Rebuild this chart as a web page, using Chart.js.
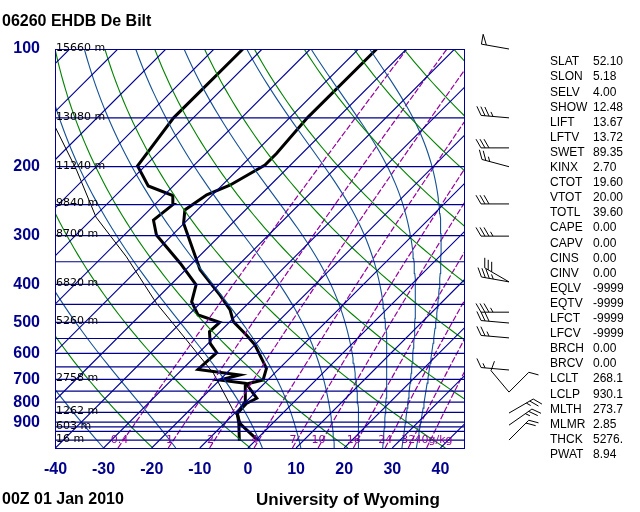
<!DOCTYPE html>
<html>
<head>
<meta charset="utf-8">
<script src="https://cdn.jsdelivr.net/npm/chart.js@4/dist/chart.umd.min.js"></script>
<style>
body { margin: 0; background: #fff; }
#wrap { width: 640px; height: 512px; position: relative; }
</style>
</head>
<body>
<div id="wrap"><canvas id="skewt" width="640" height="512"></canvas></div>
<script>
// sounding data (hPa, degC)
var tempP = [1004, 907, 855, 806, 782, 719, 702, 656, 571, 539, 498, 465, 426, 367, 279, 258, 236, 223, 198, 185, 150, 100];
var tempT = [0.6, -6.8, -9.4, -9.6, -8.5, -13.6, -11.0, -12.7, -20.0, -23.8, -29.3, -32.4, -37.6, -47.0, -60.1, -62.6, -61.2, -58.4, -55.3, -55.3, -56.3, -56.2];
var dwptP = [1004, 907, 855, 798, 716, 702, 682, 660, 598, 566, 528, 500, 479, 443, 401, 353, 299, 274, 250, 237, 224, 199, 150, 100];
var dwptT = [-3.3, -7.0, -9.4, -10.2, -14.0, -20.0, -16.9, -26.7, -26.3, -29.6, -32.2, -32.0, -38.0, -42.1, -44.7, -52.5, -63.3, -67.0, -66.2, -68.1, -75.2, -81.6, -84.1, -84.0];
var parcelP = [1004, 930, 838, 675, 555, 447, 340, 269, 204, 158];
var parcelT = [0.6, -5.0, -11.0, -22.7, -35.2, -49.1, -65.0, -79.6, -93.4, -106.9];

// winds (hPa, deg, knots)
var windP = [100, 150, 179, 200, 249, 301, 394, 394, 471, 502, 548, 662, 754, 754, 853, 916, 1000];
var windDir = [280, 275, 270, 285, 270, 270, 280, 300, 270, 275, 275, 275, 320, 45, 60, 55, 45];
var windSpd = [50, 35, 30, 25, 30, 35, 35, 30, 35, 30, 25, 15, 10, 10, 25, 25, 20];

// labels
var pressureTicks = [100, 200, 300, 400, 500, 600, 700, 800, 900];
var tempTicks = [-40, -30, -20, -10, 0, 10, 20, 30, 40];
var heightP = [100, 150, 200, 250, 300, 400, 500, 700, 850, 925, 1000];
var heightLabels = ['15660 m', '13080 m', '11240 m', '9840 m', '8700 m', '6820 m', '5260 m', '2758 m', '1262 m', '603 m', '16 m'];
var isobars = [100, 150, 200, 250, 300, 350, 400, 450, 500, 550, 600, 650, 700, 750, 800, 850, 900, 925, 950, 1000];
var mixRatios = [0.4, 1, 2, 4, 7, 10, 16, 24, 32, 40];
var mixLabels = ['0.4', '1', '2', '4', '7', '10', '16', '24', '32', '40g/kg'];
var moistStart = [-30, -15, 3, 11, 18, 23, 28, 32, 35];   // degC at bottom edge
var indexNames = ['SLAT', 'SLON', 'SELV', 'SHOW', 'LIFT', 'LFTV', 'SWET', 'KINX', 'CTOT', 'VTOT', 'TOTL', 'CAPE', 'CAPV', 'CINS', 'CINV', 'EQLV', 'EQTV', 'LFCT', 'LFCV', 'BRCH', 'BRCV', 'LCLT', 'LCLP', 'MLTH', 'MLMR', 'THCK', 'PWAT'];
var indexValues = ['52.10', '5.18', '4.00', '12.48', '13.67', '13.72', '89.35', '2.70', '19.60', '20.00', '39.60', '0.00', '0.00', '0.00', '0.00', '-9999', '-9999', '-9999', '-9999', '0.00', '0.00', '268.1', '930.1', '273.7', '2.85', '5276.', '8.94'];

var P0 = 1048, PTOP = 100, SKEW = 81.3;
var XMIN = -40.1, XMAX = 44.9;

function sk(t, p) { return { x: t + SKEW * Math.log10(P0 / p), y: p }; }
function profile(ps, ts) { return ps.map(function(p, i) { return sk(ts[i], p); }); }

function line(data, color, width, dash) {
    return { data: data, borderColor: color, borderWidth: width, borderDash: dash || [],
             showLine: true, pointRadius: 0, fill: false, tension: 0 };
}

var datasets = [];
var levels = [];
for (var lp = Math.log(P0); lp >= Math.log(PTOP) - 1e-9; lp -= (Math.log(P0) - Math.log(PTOP)) / 60) levels.push(Math.exp(lp));

// isobars
isobars.forEach(function(p) {
    datasets.push(line([{ x: XMIN, y: p }, { x: XMAX, y: p }], 'rgb(0,0,140)', 1.2));
});
// isotherms
for (var t = -160; t <= 40; t += 10) {
    datasets.push(line([sk(t, P0), sk(t, PTOP)], 'rgb(0,0,150)', 1.1));
}
// dry adiabats
for (var th = 250; th <= 510; th += 20) {
    datasets.push(line(levels.map(function(p) { return sk(th * Math.pow(p / 1000, 0.286) - 273.15, p); }), 'rgb(0,130,0)', 1.1));
}
// moist adiabats
function rs(T, p) { var e = 6.112 * Math.exp(17.67 * (T - 273.15) / (T - 29.65)); return 0.622 * e / (p - e); }
moistStart.forEach(function(t0) {
    var T = t0 + 273.15, seg = [sk(t0, P0)];
    var n = 80, dl = (Math.log(P0) - Math.log(PTOP)) / n;
    for (var i = 0; i < n; i++) {
        var p = P0 * Math.exp(-i * dl), r = rs(T, p);
        var g = (287 * T + 2.5e6 * r) / (1004 + 2.5e6 * 2.5e6 * r * 0.622 / (287 * T * T));
        T -= g * dl;
        seg.push(sk(T - 273.15, P0 * Math.exp(-(i + 1) * dl)));
    }
    datasets.push(line(seg, 'rgb(20,80,150)', 1.1));
});
// mixing ratio lines
function tdOf(w, p) { var e = w * p / (622 + w), l = Math.log(e / 6.112); return 243.5 * l / (17.67 - l); }
mixRatios.forEach(function(w) {
    datasets.push(line(levels.map(function(p) { return sk(tdOf(w, p), p); }), 'rgb(150,0,160)', 1.2, [6, 2]));
});
// sounding
datasets.push(line(profile(parcelP, parcelT), '#000', 1));
datasets.push(line(profile(tempP, tempT), '#000', 3));
datasets.push(line(profile(dwptP, dwptT), '#000', 3));

var decor = {
    id: 'decor',
    afterDraw: function(chart) {
        var c = chart.ctx, xs = chart.scales.x, ys = chart.scales.y, a = chart.chartArea;
        c.save();
        c.strokeStyle = 'rgb(0,0,150)'; c.lineWidth = 1;
        c.strokeRect(a.left + 0.5, a.top + 0.5, a.right - a.left, a.bottom - a.top);

        c.fillStyle = '#000'; c.font = '11px "DejaVu Sans", sans-serif';
        c.textBaseline = 'middle'; c.textAlign = 'left';
        heightP.forEach(function(p, i) { c.fillText(heightLabels[i], a.left + 1, ys.getPixelForValue(p) - 1); });

        c.fillStyle = 'rgb(150,0,160)'; c.textAlign = 'center';
        mixRatios.forEach(function(w, i) {
            var px = xs.getPixelForValue(sk(tdOf(w, 1000), 1000).x);
            if (i == mixRatios.length - 1) { c.textAlign = 'left'; px -= 12; }
            c.fillText(mixLabels[i], px - 4, ys.getPixelForValue(1000));
        });

        c.fillStyle = 'rgb(0,0,140)'; c.font = 'bold 16px "Liberation Sans", Arial, sans-serif';
        c.textAlign = 'right';
        pressureTicks.forEach(function(p) { c.fillText(String(p), 40, ys.getPixelForValue(p)); });
        c.textAlign = 'center';
        tempTicks.forEach(function(t) { c.fillText(String(t), xs.getPixelForValue(t), 470); });

        c.fillStyle = '#000'; c.textAlign = 'left';
        c.font = 'bold 16px "Liberation Sans", Arial, sans-serif';
        c.fillText('06260 EHDB De Bilt', 2, 22);
        c.fillText('00Z 01 Jan 2010', 2, 500);
        c.font = 'bold 17px "Liberation Sans", Arial, sans-serif';
        c.fillText('University of Wyoming', 256, 500);

        c.font = '12px "Liberation Sans", Arial, sans-serif';
        indexNames.forEach(function(nm, i) {
            var y = 62 + i * 15.1;
            c.fillText(nm, 550, y);
            c.fillText(indexValues[i], 593, y);
        });

        // wind barbs
        c.strokeStyle = '#000'; c.lineWidth = 1;
        windP.forEach(function(p, i) {
            var bx = 509, by = ys.getPixelForValue(p);
            var d = windDir[i] * Math.PI / 180;
            var sx = Math.sin(d), sy = -Math.cos(d);
            var L = 28;
            var ex = bx + sx * L, ey = by + sy * L;
            var qx = -sy, qy = sx;
            c.beginPath(); c.moveTo(bx, by); c.lineTo(ex, ey); c.stroke();
            var s = windSpd[i], pos = 0;
            while (s >= 50) {
                var x1 = ex - sx * pos, y1 = ey - sy * pos;
                c.beginPath(); c.moveTo(x1, y1);
                c.lineTo(x1 + qx * 10, y1 + qy * 10);
                c.lineTo(x1 - sx * 5, y1 - sy * 5); c.stroke();
                pos += 7; s -= 50;
            }
            while (s >= 10) {
                var x1 = ex - sx * pos, y1 = ey - sy * pos;
                c.beginPath(); c.moveTo(x1, y1);
                c.lineTo(x1 + (0.5 * sx + 0.87 * qx) * 10, y1 + (0.5 * sy + 0.87 * qy) * 10); c.stroke();
                pos += 4; s -= 10;
            }
            if (s >= 5) {
                if (pos == 0) pos = 4;
                var x1 = ex - sx * pos, y1 = ey - sy * pos;
                c.beginPath(); c.moveTo(x1, y1);
                c.lineTo(x1 + (0.5 * sx + 0.87 * qx) * 5, y1 + (0.5 * sy + 0.87 * qy) * 5); c.stroke();
            }
        });
        c.restore();
    }
};

var ctx = document.getElementById('skewt').getContext('2d');
var chart = new Chart(ctx, {
    type: 'scatter',
    data: { datasets: datasets },
    options: {
        responsive: false,
        animation: false,
        layout: { padding: { left: 55, top: 49, right: 176, bottom: 64 } },
        plugins: { legend: { display: false }, tooltip: { enabled: false } },
        scales: {
            x: { type: 'linear', min: XMIN, max: XMAX, display: false },
            y: { type: 'logarithmic', min: PTOP, max: P0, reverse: true, display: false }
        }
    },
    plugins: [decor]
});
</script>
</body>
</html>
